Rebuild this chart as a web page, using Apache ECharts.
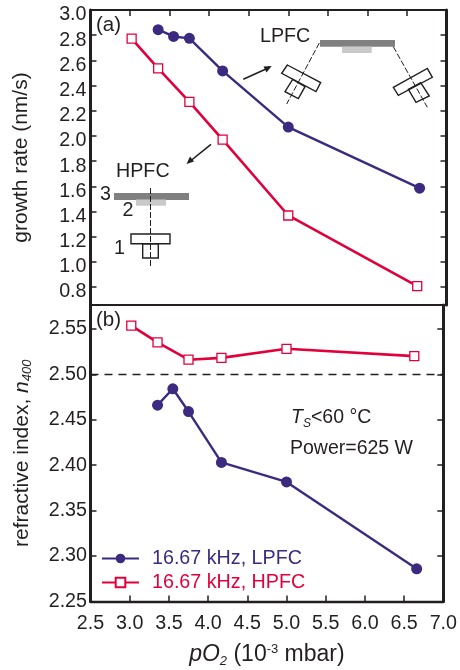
<!DOCTYPE html>
<html><head><meta charset="utf-8">
<style>html,body{margin:0;padding:0;background:#fff}#c{width:460px;height:670px}</style>
<script src="https://cdn.jsdelivr.net/npm/echarts@6/dist/echarts.min.js"></script>
</head><body><div id="c"></div>
<script>
const lpfcX = [3.355, 3.55, 3.75, 4.17, 5.0, 6.66];
const hpfcX = [3.02, 3.355, 3.75, 4.17, 5.0, 6.63];
const lpfcRate = [2.844, 2.79, 2.775, 2.516, 2.07, 1.585];
const hpfcRate = [2.772, 2.537, 2.27, 1.97, 1.368, 0.807];
const lpfcIndex = [2.466, 2.484, 2.459, 2.403, 2.3815, 2.286];
const hpfcIndex = [2.5535, 2.535, 2.516, 2.518, 2.528, 2.52];
const rateTicks = [0.8, 1.0, 1.2, 1.4, 1.6, 1.8, 2.0, 2.2, 2.4, 2.6, 2.8, 3.0];
const indexTicks = [2.25, 2.30, 2.35, 2.40, 2.45, 2.50, 2.55];
const LPFC = '16.67 kHz, LPFC', HPFC = '16.67 kHz, HPFC';
const INK = '#231f20', BLUE = '#3b2a80', RED = '#e2003c';
const FONT = '"Liberation Sans", Arial, sans-serif';
const zip = (a, b) => a.map((v, i) => [v, b[i]]);

const lineOf = (name, color, xv, yv, idx, extra) => Object.assign({
  name, type: 'line', xAxisIndex: idx, yAxisIndex: idx, data: zip(xv, yv),
  symbol: color === BLUE ? 'circle' : 'rect',
  symbolSize: color === BLUE ? 11 : 9,
  showSymbol: true, clip: false, animation: false, silent: true,
  z: 5,
  lineStyle: { color, width: color === BLUE ? 2.4 : 2.6 },
  itemStyle: color === BLUE ? { color } : { color: '#fff', borderColor: color, borderWidth: 1.3 }
}, extra || {});

const axisLine = w => ({ show: true, onZero: false, lineStyle: { color: INK, width: w } });
const ticks = (extra) => Object.assign({ show: true, inside: true, length: 6, lineStyle: { color: INK, width: 1.5 } }, extra || {});
const xBase = g => ({ type: 'value', gridIndex: g, min: 2.5, max: 7.0, interval: 0.5, splitLine: { show: false } });
const yBase = (g, lo, hi) => ({ type: 'value', gridIndex: g, min: lo, max: hi, splitLine: { show: false } });

const option = {
  animation: false,
  backgroundColor: '#fff',
  textStyle: { fontFamily: FONT, color: INK },
  grid: [
    { left: 90.5, right: 13.5, top: 10, height: 295 },
    { left: 90.5, right: 13.5, top: 305, height: 296.5 }
  ],
  legend: {
    left: 101, top: 548.5, padding: 0, orient: 'vertical', itemWidth: 37, itemHeight: 12, itemGap: 4,
    selectedMode: false,
    textStyle: { fontSize: 19.7, fontFamily: FONT, padding: [0, 0, 0, 8] },
    data: [
      { name: LPFC, textStyle: { color: BLUE } },
      { name: HPFC, textStyle: { color: RED } }
    ]
  },
  xAxis: [
    Object.assign(xBase(0), { position: 'top', axisLine: axisLine(2), axisTick: ticks(), axisLabel: { show: false } }),
    Object.assign(xBase(1), {
      position: 'bottom', axisLine: axisLine(2.4), axisTick: ticks(),
      axisLabel: { show: true, margin: 12, fontSize: 19.7, color: INK, fontFamily: FONT,
        formatter: v => v.toFixed(1) },
      name: '{i|pO}{sub|2}{n| (10}{sup|-3}{n| mbar)}', nameLocation: 'middle', nameGap: 41,
      nameTextStyle: { color: INK, rich: {
        i: { fontSize: 23, fontStyle: 'italic', color: INK, fontFamily: FONT },
        n: { fontSize: 23, color: INK, fontFamily: FONT },
        sub: { fontSize: 13, fontStyle: 'italic', color: INK, fontFamily: FONT, padding: [12, 0, 0, 0] },
        sup: { fontSize: 13, color: INK, fontFamily: FONT, padding: [0, 0, 12, 0] }
      } }
    }),
    Object.assign(xBase(0), { position: 'bottom', axisLine: axisLine(2), axisTick: { show: false }, axisLabel: { show: false } })
  ],
  yAxis: [
    Object.assign(yBase(0, 0.657, 3.0), {
      position: 'left', axisLine: axisLine(3), axisTick: ticks({ customValues: rateTicks }),
      axisLabel: { show: true, customValues: rateTicks, margin: 4, fontSize: 19.7, color: INK, fontFamily: FONT,
        verticalAlign: 'top', lineHeight: 10, formatter: v => v.toFixed(1) },
      name: 'growth rate (nm/s)', nameLocation: 'middle', nameGap: 59,
      nameTextStyle: { fontSize: 21, color: INK, fontFamily: FONT }
    }),
    Object.assign(yBase(1, 2.25, 2.5762), {
      position: 'left', axisLine: axisLine(3), axisTick: ticks({ customValues: indexTicks }),
      axisLabel: { show: true, customValues: indexTicks, margin: 3.5, fontSize: 19.7, color: INK, fontFamily: FONT,
        formatter: v => v.toFixed(2) },
      name: '{n|refractive index, }{i|n}{sub|400}', nameLocation: 'middle', nameGap: 57,
      nameTextStyle: { color: INK, rich: {
        n: { fontSize: 21, color: INK, fontFamily: FONT },
        i: { fontSize: 21, fontStyle: 'italic', color: INK, fontFamily: FONT },
        sub: { fontSize: 13, fontStyle: 'italic', color: INK, fontFamily: FONT, padding: [10, 0, 0, 0] }
      } }
    }),
    Object.assign(yBase(0, 0.657, 3.0), { position: 'right', axisLine: axisLine(3), axisTick: ticks({ customValues: rateTicks }), axisLabel: { show: false } }),
    Object.assign(yBase(1, 2.25, 2.5762), { position: 'right', axisLine: axisLine(3), axisTick: ticks({ customValues: indexTicks }), axisLabel: { show: false } })
  ],
  series: [
    lineOf(LPFC, BLUE, lpfcX, lpfcRate, 0),
    lineOf(HPFC, RED, hpfcX, hpfcRate, 0),
    lineOf(HPFC, RED, hpfcX, hpfcIndex, 1, {
      markLine: { silent: true, symbol: 'none', animation: false, label: { show: false },
        lineStyle: { color: INK, type: [8, 6], width: 1.3 }, data: [{ yAxis: 2.5 }] }
    }),
    lineOf(LPFC, BLUE, lpfcX, lpfcIndex, 1)
  ],
  graphic: buildGraphics()
};

function buildGraphics() {
  const txt = (x, y, text, size, extra) => ({ type: 'text', x, y, silent: true, z: 20,
    style: Object.assign({ text, fontSize: size || 19.7, fontFamily: FONT, fill: INK, verticalAlign: 'middle', align: 'left' }, extra || {}) });
  const bar = (x1, y1, x2, y2, fill) => ({ type: 'rect', silent: true, z: 10, shape: { x: x1, y: y1, width: x2 - x1, height: y2 - y1 }, style: { fill } });
  const box = (pts) => ({ type: 'polygon', silent: true, z: 12, shape: { points: pts }, style: { fill: 'none', stroke: INK, lineWidth: 1.4 } });
  const dash = (x1, y1, x2, y2) => ({ type: 'line', silent: true, z: 11, shape: { x1, y1, x2, y2 }, style: { stroke: INK, lineWidth: 1, lineDash: [6, 2] } });
  const line = (x1, y1, x2, y2) => ({ type: 'line', silent: true, z: 11, shape: { x1, y1, x2, y2 }, style: { stroke: INK, lineWidth: 1.6 } });
  const head = (pts) => ({ type: 'polygon', silent: true, z: 11, shape: { points: pts }, style: { fill: INK } });
  const z = (x, y) => [230 + x / 3, y / 3];
  return [
    txt(96, 25, '(a)', 20.5),
    txt(96, 320, '(b)', 20.5),
    txt(116, 172, 'HPFC', 19.7),
    txt(100, 195, '3', 19.7),
    txt(122.5, 211, '2', 19.7),
    txt(114, 249, '1', 19.7),
    bar(114, 193, 189, 200, '#808080'),
    bar(136, 199.5, 166, 205.7, '#c9c9c9'),
    dash(150.5, 188, 150.5, 266),
    box([[131, 234], [170, 234], [170, 243.7], [131, 243.7]]),
    box([[142.7, 243.7], [158.3, 243.7], [158.3, 258], [142.7, 258]]),
    line(211, 144.3, 191, 160.5),
    head([[186.5, 164], [190, 156.5], [194, 161.5]]),
    txt(260, 36.5, 'LPFC', 19.7),
    bar(320, 40, 395, 46.7, '#808080'),
    bar(342, 46.7, 371.7, 53, '#c9c9c9'),
    dash(319.3, 43, 286.7, 104),
    dash(393.3, 46.7, 427.3, 107.3),
    box([z(172, 195), z(272, 248), z(258, 275), z(155, 220)]),
    box([z(188, 238), z(225, 260), z(205, 296), z(165, 275)]),
    box([z(490, 262), z(592, 205), z(607, 232), z(505, 286)]),
    box([z(535, 268), z(572, 248), z(598, 288), z(558, 307)]),
    line(243.3, 79.3, 266, 69),
    head([[271.7, 66], [263.5, 66.5], [266.5, 72.5]]),
    { type: 'text', x: 291, y: 418, silent: true, z: 20, style: {
        text: '{i|T}{s|S}{n|<60 °C}', verticalAlign: 'middle', align: 'left', fill: INK, fontFamily: FONT,
        rich: {
          i: { fontSize: 19.5, fontStyle: 'italic', fill: INK, fontFamily: FONT },
          n: { fontSize: 19.5, fill: INK, fontFamily: FONT },
          s: { fontSize: 12, fontStyle: 'italic', fill: INK, fontFamily: FONT, padding: [12, 0, 0, 0] }
        } } },
    txt(290, 449, 'Power=625 W', 19.5)
  ];
}

const chart = echarts.init(document.getElementById('c'), null, { renderer: 'canvas' });
chart.setOption(option);
</script>
</body></html>
